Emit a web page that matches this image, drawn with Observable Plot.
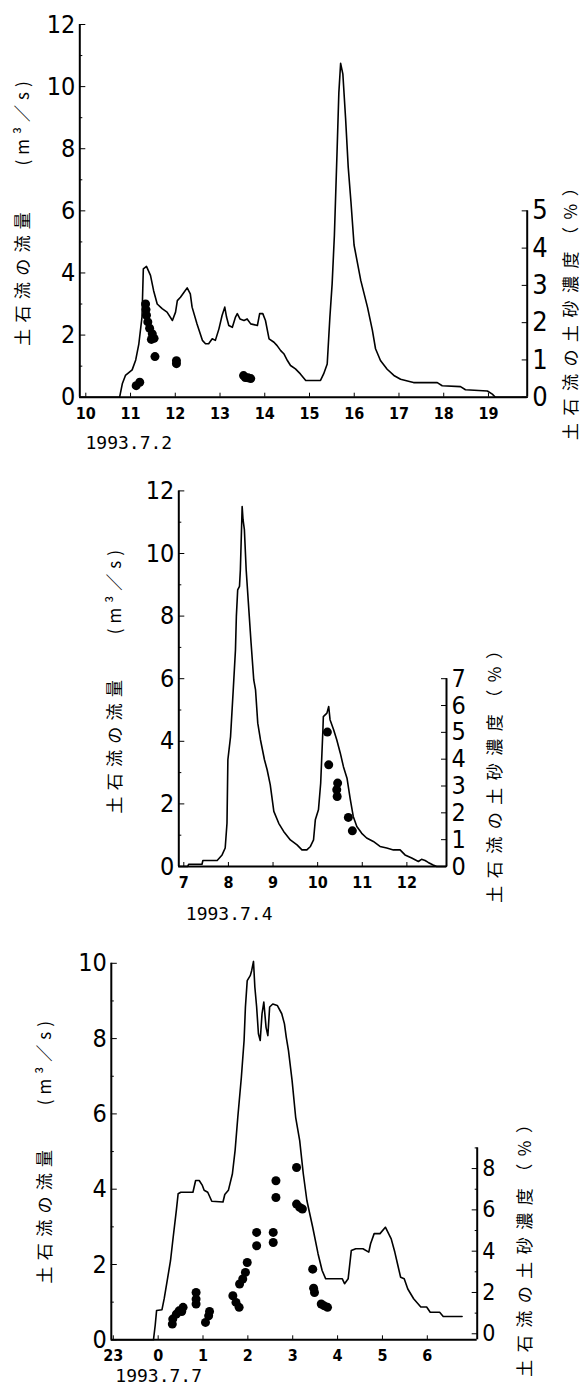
<!DOCTYPE html>
<html><head><meta charset="utf-8">
<script src="https://cdn.jsdelivr.net/npm/d3@7"></script>
<script src="https://cdn.jsdelivr.net/npm/@observablehq/plot@0.6"></script>
<style>
html,body{margin:0;padding:0;background:#fff;}
#page{position:relative;width:585px;height:1387px;overflow:hidden;background:#fff;}
#page svg{position:absolute;left:0;}
</style></head>
<body><div id="page"></div>
<script>
// ---------- Panel 1 : 1993.7.2 ----------
const p1Time = [10,10.89,10.95,11.02,11.17,11.25,11.32,11.39,11.42,11.49,11.58,11.65,11.73,11.84,11.95,12.07,12.14,12.18,12.25,12.33,12.40,12.47,12.51,12.62,12.74,12.81,12.88,12.96,13.03,13.11,13.18,13.24,13.28,13.33,13.41,13.48,13.52,13.58,13.67,13.74,13.82,13.97,14.02,14.09,14.15,14.23,14.34,14.41,14.49,14.56,14.64,14.71,14.82,14.93,15.05,15.38,15.45,15.53,15.59,15.64,15.69,15.75,15.79,15.83,15.88,15.94,16.0,16.06,16.13,16.28,16.43,16.54,16.61,16.72,16.87,17.02,17.17,17.39,17.46,17.99,18.10,18.51,18.62,19.11,19.22,19.29,20];
const p1Flow = [0,0,0.43,0.70,0.88,1.2,1.72,2.58,4.13,4.21,3.92,3.43,3.0,2.85,2.74,2.47,2.74,3.11,3.22,3.38,3.52,3.33,2.90,2.36,1.83,1.72,1.72,1.88,1.83,2.20,2.63,2.90,2.58,2.31,2.25,2.58,2.69,2.52,2.47,2.52,2.36,2.31,2.69,2.69,2.47,1.88,1.77,1.66,1.50,1.40,1.18,1.02,0.91,0.75,0.54,0.54,0.75,1.07,2.58,3.65,5.2,7.9,9.8,10.75,10.4,9.0,7.4,6.3,4.9,3.76,2.90,2.15,1.56,1.18,0.90,0.70,0.58,0.50,0.47,0.47,0.37,0.34,0.24,0.20,0.10,0,0];
const p1DotTime = [11.26,11.34,11.47,11.48,11.49,11.52,11.56,11.60,11.62,11.66,11.68,12.16,12.16,13.66,13.70,13.76,13.82];
const p1DotConc = [0.31,0.40,2.50,2.35,2.20,2.02,1.85,1.55,1.70,1.58,1.09,0.98,0.90,0.58,0.53,0.52,0.50];
const p1XTicks = [10,11,12,13,14,15,16,17,18,19];
const p1XLabels = ["10","11","12","13","14","15","16","17","18","19"];
const p1YMajor = [0,2,4,6,8,10,12];
const p1YMinor = [1,3,5,7,9,11];
const p1PctMajor = [0,1,2,3,4,5];

// ---------- Panel 2 : 1993.7.4 ----------
const p2Time = [7,7.2,7.22,7.52,7.54,7.86,7.97,8.04,8.08,8.10,8.16,8.22,8.27,8.29,8.32,8.36,8.38,8.42,8.44,8.47,8.51,8.57,8.62,8.68,8.72,8.77,8.83,8.92,8.98,9.05,9.13,9.24,9.35,9.50,9.65,9.76,9.87,9.95,10.02,10.06,10.13,10.18,10.23,10.24,10.32,10.36,10.39,10.47,10.54,10.62,10.69,10.77,10.84,10.91,10.99,11.10,11.21,11.36,11.51,11.66,11.81,11.96,12.07,12.22,12.37,12.44,12.52,12.59,12.70,12.78,13];
const p2Flow = [0,0,0.07,0.07,0.19,0.19,0.37,0.59,1.38,3.41,4.15,5.64,6.92,7.99,8.84,8.95,9.48,11.5,11.08,10.76,9.48,8.2,7.14,5.96,5.64,4.58,4.05,3.41,3.09,2.61,1.76,1.38,1.12,0.85,0.69,0.53,0.53,0.64,0.85,1.49,1.81,2.66,4.37,4.79,4.90,5.11,4.69,4.37,4.05,3.62,3.19,2.82,2.18,1.60,1.28,1.06,0.91,0.80,0.64,0.59,0.53,0.53,0.37,0.27,0.16,0.23,0.19,0.13,0.05,0,0];
const p2DotTime = [10.33,10.36,10.56,10.54,10.55,10.80,10.89];
const p2DotConc = [5.01,3.79,3.11,2.86,2.61,1.83,1.33];
const p2XTicks = [7,8,9,10,11,12];
const p2XLabels = ["7","8","9","10","11","12"];
const p2YMajor = [0,2,4,6,8,10,12];
const p2YMinor = [1,3,5,7,9,11];
const p2PctMajor = [0,1,2,3,4,5,6,7];

// ---------- Panel 3 : 1993.7.7 (hours from midnight, 23:00 = -1) ----------
const p3Time = [-1,-0.06,-0.02,0.01,0.13,0.18,0.25,0.32,0.38,0.45,0.49,0.55,0.82,0.88,0.96,1.03,1.07,1.15,1.24,1.49,1.53,1.61,1.70,1.76,1.82,1.90,1.96,1.99,2.03,2.10,2.13,2.17,2.20,2.24,2.28,2.32,2.36,2.40,2.45,2.49,2.53,2.60,2.70,2.80,2.86,2.90,2.95,3.03,3.11,3.20,3.28,3.36,3.49,3.61,3.70,3.78,4.15,4.20,4.28,4.35,4.45,4.61,4.74,4.78,4.86,4.99,5.11,5.24,5.32,5.38,5.45,5.53,5.61,5.74,5.90,6.03,6.11,6.32,6.40,6.82];
const p3Flow = [0,0,0.40,0.78,0.80,1.10,1.60,2.10,2.73,3.44,3.88,3.92,3.92,4.23,4.23,4.10,3.97,3.92,3.68,3.66,3.86,3.97,4.41,5.03,5.91,6.98,7.95,8.84,9.54,9.68,9.81,10.05,9.37,8.84,8.13,7.95,8.66,8.97,8.30,8.08,8.84,8.92,8.88,8.66,8.39,8.04,7.68,6.89,5.91,5.29,4.41,3.70,2.99,2.28,1.84,1.62,1.62,1.49,1.62,2.37,2.42,2.42,2.33,2.55,2.82,2.82,2.99,2.68,2.33,2.02,1.66,1.62,1.35,1.09,0.87,0.87,0.73,0.73,0.62,0.62];
const p3DotTime = [0.36,0.37,0.45,0.51,0.60,0.57,0.89,0.89,0.89,1.10,1.17,1.19,1.71,1.78,1.85,1.86,1.93,1.99,2.03,2.24,2.24,2.61,2.61,2.67,2.67,3.13,3.13,3.20,3.26,3.49,3.51,3.53,3.68,3.74,3.82];
const p3DotConc = [0.47,0.71,0.95,1.11,1.28,1.08,2.0,1.68,1.44,0.55,0.87,1.08,1.84,1.52,1.28,2.41,2.65,2.97,3.45,4.91,4.26,4.91,4.42,7.41,6.6,8.05,6.28,6.12,6.04,3.13,2.21,2.0,1.44,1.36,1.28];
const p3XTicks = [-1,0,1,2,3,4,5,6];
const p3XLabels = ["23","0","1","2","3","4","5","6"];
const p3YMajor = [0,2,4,6,8,10];
const p3YMinor = [1,3,5,7,9];
const p3PctMajor = [0,2,4,6,8];
const p3PctMinor = [1,3,5,7,9];

const leftTitleA = "土石流の流量";
const leftTitleB = "(m³／s)";
const rightTitle = "土石流の土砂濃度（%）";

const NARROW = "'Liberation Sans Narrow','DejaVu Sans Condensed','Arial Narrow','Liberation Sans',sans-serif";
const CJK = "'Noto Sans CJK JP','Noto Sans CJK SC',sans-serif";

function makePanel(c) {
  const flow = c.time.map((t, i) => ({t, v: c.flow[i]}));
  const toY = p => c.off + p * c.k;
  const dots = c.dotTime.map((t, i) => ({t, v: toY(c.dotConc[i])}));
  const xLab = new Map(c.xTicks.map((t, i) => [t, c.xLabels[i]]));
  const titleOpts = {rotate: -90, textAnchor: "middle", lineAnchor: "middle", fontSize: 17, fontFamily: CJK, fill: "black"};
  const marks = [
    Plot.ruleX([c.xDomain[0]], {y1: 0, y2: c.yTop, strokeWidth: 2}),
    Plot.ruleY([0], {x1: c.xDomain[0], x2: c.xDomain[1], strokeWidth: 2}),
    Plot.ruleX([c.xDomain[1]], {y1: 0, y2: toY(c.pctTop), strokeWidth: 2}),
    Plot.axisY(c.yMajor, {anchor: "left", tickSize: -6, tickPadding: 10.5, fontSize: 25, fontFamily: NARROW, tickFormat: d => String(d), label: null}),
    Plot.axisY(c.yMinor, {anchor: "left", tickSize: -3, tickFormat: () => "", label: null}),
    Plot.axisY(c.pctMajor.map(toY), {anchor: "right", tickSize: -6, tickPadding: 11, fontSize: c.rightFont, fontFamily: NARROW, tickFormat: v => String(Math.round((v - c.off) / c.k)), label: null}),
    Plot.axisX(c.xTicks, {anchor: "bottom", tickSize: -4, tickPadding: 14, fontSize: 16, fontWeight: "bold", fontFamily: NARROW, dx: c.xdx, tickFormat: d => xLab.get(d), label: null}),
    Plot.line(flow, {x: "t", y: "v", stroke: "black", strokeWidth: 1.6}),
    Plot.dot(dots, {x: "t", y: "v", r: 4.5, fill: "black", stroke: "none"}),
    Plot.text([leftTitleA], {...titleOpts, frameAnchor: "left", dx: c.ltx, dy: c.ltyA}),
    Plot.text([leftTitleB], {...titleOpts, frameAnchor: "left", dx: c.ltx, dy: c.ltyB}),
    Plot.text([rightTitle], {...titleOpts, frameAnchor: "right", dx: c.rtx, dy: c.rty}),
    Plot.text([c.date], {frameAnchor: "bottom-left", textAnchor: "start", lineAnchor: "bottom", dx: c.dtx, dy: c.dty, fontSize: 18, fontFamily: "'DejaVu Sans Mono',monospace"})
  ];
  if (c.pctMinor) marks.push(Plot.axisY(c.pctMinor.map(toY), {anchor: "right", tickSize: -3, tickFormat: () => "", label: null}));
  const svg = Plot.plot({
    width: 585, height: c.height,
    marginTop: c.mt, marginBottom: c.mb, marginLeft: c.ml, marginRight: c.mr,
    x: {domain: c.xDomain, label: null},
    y: {domain: [0, c.yTop], label: null},
    style: {background: "transparent", color: "black", fontFamily: NARROW, overflow: "visible"},
    marks
  });
  const spacing = {[leftTitleA]: 6.3, [leftTitleB]: 5, [rightTitle]: 7.5};
  d3.select(svg).selectAll("text").each(function() {
    const s = spacing[this.textContent];
    if (s != null) this.setAttribute("letter-spacing", s);
  });
  svg.style.top = c.top + "px";
  return svg;
}

const page = document.getElementById("page");
page.appendChild(makePanel({
  top: 0, height: 460, mt: 24, mb: 63.3, ml: 79.3, mr: 58.3,
  xDomain: [10, 20], yTop: 12, k: 1.2, off: 0, pctTop: 5, rightFont: 27, xdx: 6,
  time: p1Time, flow: p1Flow, dotTime: p1DotTime, dotConc: p1DotConc,
  xTicks: p1XTicks, xLabels: p1XLabels, yMajor: p1YMajor, yMinor: p1YMinor, pctMajor: p1PctMajor,
  ltx: -56, ltyA: 65, ltyB: -90, rtx: 44, rty: 95, date: "1993.7.2", dtx: 5.7, dty: 52
}));
page.appendChild(makePanel({
  top: 460, height: 460, mt: 30.4, mb: 54, ml: 178.3, mr: 139,
  xDomain: [7, 13], yTop: 12, k: 6 / 7, off: 0, pctTop: 7, rightFont: 25, xdx: 5,
  time: p2Time, flow: p2Flow, dotTime: p2DotTime, dotConc: p2DotConc,
  xTicks: p2XTicks, xLabels: p2XLabels, yMajor: p2YMajor, yMinor: p2YMinor, pctMajor: p2PctMajor,
  ltx: -63, ltyA: 65, ltyB: -89, rtx: 49, rty: 90, date: "1993.7.4", dtx: 7, dty: 53
}));
page.appendChild(makePanel({
  top: 920, height: 467, mt: 42.8, mb: 47.7, ml: 110.8, mr: 108.3,
  xDomain: [-1, 7.157], yTop: 10, k: 0.5485, off: 0.16, pctTop: 9, rightFont: 23, xdx: 2,
  time: p3Time, flow: p3Flow, dotTime: p3DotTime, dotConc: p3DotConc,
  xTicks: p3XTicks, xLabels: p3XLabels, yMajor: p3YMajor, yMinor: p3YMinor, pctMajor: p3PctMajor, pctMinor: p3PctMinor,
  ltx: -66, ltyA: 62, ltyB: -91, rtx: 48, rty: 91, date: "1993.7.7", dtx: 4, dty: 42
}));
</script></body></html>
